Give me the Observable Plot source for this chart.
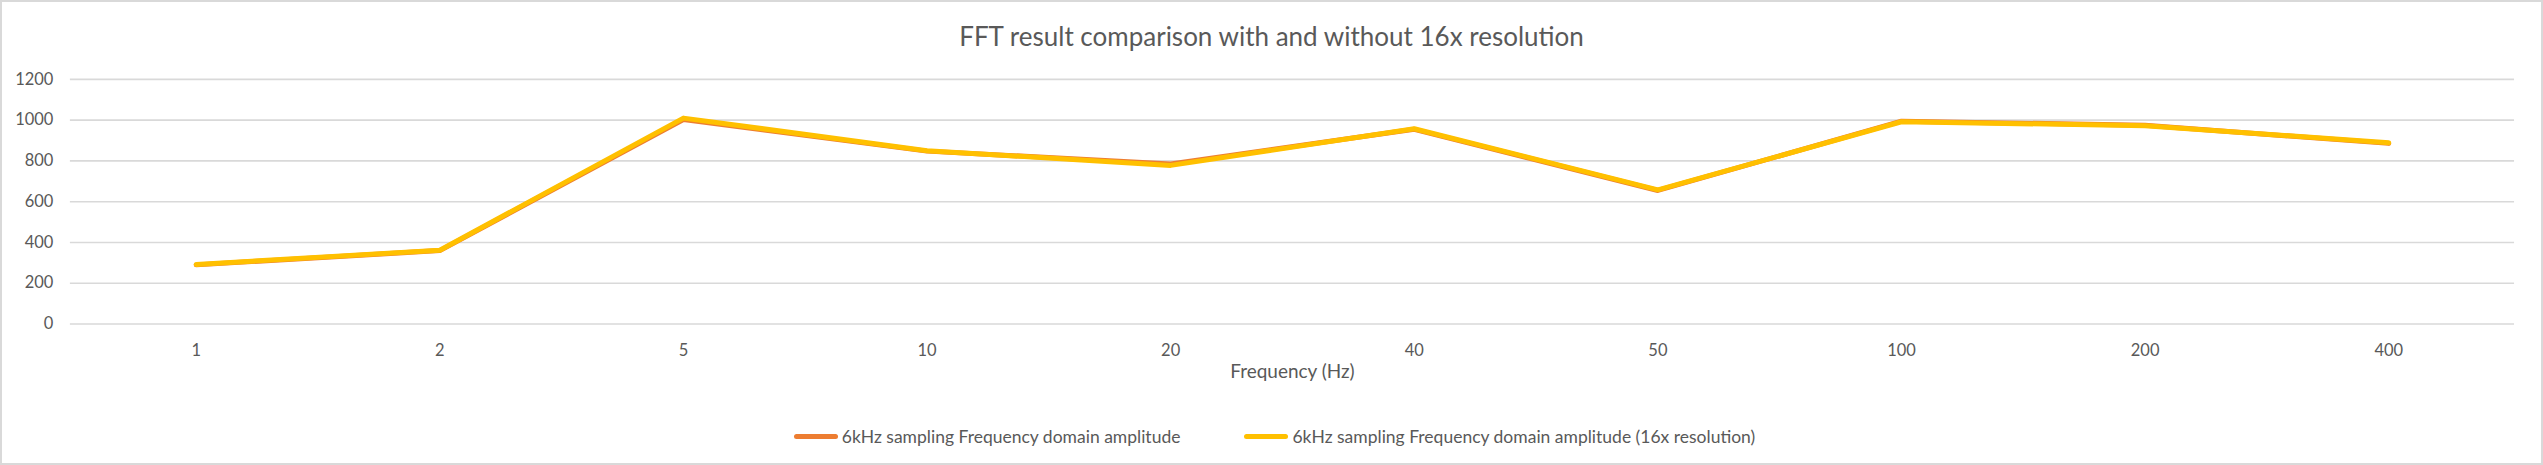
<!DOCTYPE html>
<html>
<head>
<meta charset="utf-8">
<script src="https://cdn.jsdelivr.net/npm/d3@7"></script>
<script src="https://cdn.jsdelivr.net/npm/@observablehq/plot@0.6"></script>
<style>
  html, body { margin: 0; padding: 0; background: #fff; }
  #chart {
    position: relative;
    width: 2543px;
    height: 465px;
    box-sizing: border-box;
    border: 2px solid #d9d9d9;
    font-family: Lato, "Open Sans", sans-serif;
    color: #595959;
    overflow: hidden;
  }
  #chart svg { position: absolute; left: -2px; top: -2px; }
  .title {
    position: absolute; left: 0; right: 0; top: 18px;
    text-align: center; font-size: 26px; color: #595959;
  }
  .legend {
    position: absolute; left: 0; right: 0; top: 424px;
    display: flex; justify-content: center; gap: 64px;
    font-size: 17.5px; color: #595959; transform: translateX(3px);
  }
  .legend span.item { display: inline-flex; align-items: center; }
  .legend i {
    display: inline-block; width: 44px; height: 5px; border-radius: 3px;
    margin-right: 4px;
  }
</style>
</head>
<body>
<div id="chart"></div>
<script>
// Frequencies tested (Hz), shown as evenly spaced categories
const frequencies = ["1", "2", "5", "10", "20", "40", "50", "100", "200", "400"];
// Frequency-domain amplitude at 6 kHz sampling
const amplitude = [290, 360, 1003, 848, 785, 955, 655, 995, 975, 886];
// Same, with 16x frequency resolution
const amplitude16x = [292, 362, 1010, 850, 778, 958, 658, 992, 973, 889];
const yTicks = [0, 200, 400, 600, 800, 1000, 1200];

const seriesNames = [
  "6kHz sampling Frequency domain amplitude",
  "6kHz sampling Frequency domain amplitude (16x resolution)"
];
const seriesColors = ["#ED7D31", "#FFC000"];

const rows = [
  ...frequencies.map((f, i) => ({freq: f, value: amplitude[i], series: seriesNames[0]})),
  ...frequencies.map((f, i) => ({freq: f, value: amplitude16x[i], series: seriesNames[1]}))
];

const chart = document.getElementById("chart");

const title = document.createElement("div");
title.className = "title";
title.textContent = "FFT result comparison with and without 16x resolution";
chart.appendChild(title);

const plot = Plot.plot({
  width: 2543,
  height: 465,
  marginTop: 79,
  marginBottom: 141,
  marginLeft: 70,
  marginRight: 25,
  style: {fontFamily: "Lato, 'Open Sans', sans-serif", fontSize: "16px", color: "#595959", background: "transparent"},
  x: {type: "point", domain: frequencies, padding: 0.5},
  y: {domain: [0, 1200]},
  color: {domain: seriesNames, range: seriesColors},
  marks: [
    Plot.gridY(yTicks, {stroke: "#d9d9d9", strokeOpacity: 1, strokeWidth: 1.6}),
    Plot.axisY(yTicks, {tickSize: 0, tickPadding: 17, label: null, fontSize: 16.5, tickFormat: d3.format("d")}),
    Plot.axisX({tickSize: 0, tickPadding: 20, label: null, fontSize: 16.5}),
    Plot.text(["Frequency (Hz)"], {frameAnchor: "bottom", dy: 54, fontSize: 19, fill: "#595959"}),
    Plot.line(rows, {
      x: "freq", y: "value", stroke: "series", z: "series",
      strokeWidth: 5, strokeLinecap: "round", strokeLinejoin: "round"
    })
  ]
});
chart.appendChild(plot);

const legend = document.createElement("div");
legend.className = "legend";
seriesNames.forEach((name, i) => {
  const item = document.createElement("span");
  item.className = "item";
  const sw = document.createElement("i");
  sw.style.background = seriesColors[i];
  item.appendChild(sw);
  item.appendChild(document.createTextNode(name));
  legend.appendChild(item);
});
chart.appendChild(legend);
</script>
</body>
</html>
